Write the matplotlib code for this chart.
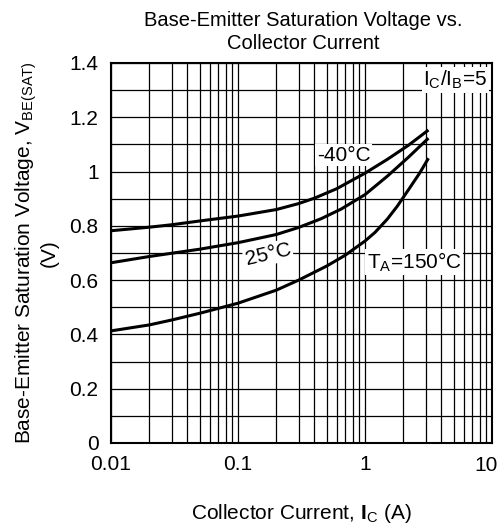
import numpy as np
import matplotlib
matplotlib.use('Agg')
import matplotlib.pyplot as plt
from matplotlib.ticker import LogLocator, FixedLocator, NullFormatter

plt.rcParams['font.family'] = ['Liberation Sans', 'DejaVu Sans']
plt.rcParams['mathtext.fontset'] = 'custom'
plt.rcParams['mathtext.rm'] = 'Liberation Sans'
plt.rcParams['mathtext.it'] = 'Liberation Sans:italic'
plt.rcParams['mathtext.bf'] = 'Liberation Sans:bold'


# Data (collector current in A, VBE(sat) in V)
ic_m40 = [0.01, 0.02, 0.03, 0.05, 0.1, 0.2, 0.3, 0.4, 0.6, 1.0, 1.5, 2.2, 3.16]
vbe_m40 = [0.782, 0.795, 0.804, 0.818, 0.836, 0.86, 0.882, 0.902, 0.937, 0.994, 1.045, 1.097, 1.153]

ic_25 = [0.01, 0.02, 0.03, 0.05, 0.1, 0.2, 0.3, 0.45, 0.65, 1.0, 1.5, 2.2, 3.16]
vbe_25 = [0.664, 0.687, 0.699, 0.714, 0.738, 0.768, 0.794, 0.826, 0.862, 0.915, 0.983, 1.053, 1.123]

ic_150 = [0.01, 0.02, 0.03, 0.05, 0.1, 0.2, 0.3, 0.5, 0.7, 1.0, 1.2, 1.5, 1.8, 2.2, 2.7, 3.16]
vbe_150 = [0.413, 0.435, 0.453, 0.478, 0.515, 0.563, 0.600, 0.652, 0.692, 0.744, 0.776,
           0.825, 0.873, 0.933, 0.995, 1.049]

x_ticks = [0.01, 0.1, 1, 10]
x_tick_labels = ['0.01', '0.1', '1', '10']
y_ticks = [0, 0.2, 0.4, 0.6, 0.8, 1.0, 1.2, 1.4]
y_tick_labels = ['0', '0.2', '0.4', '0.6', '0.8', '1', '1.2', '1.4']


fig = plt.figure(figsize=(5.01, 5.24), dpi=100)
ax = fig.add_axes([0.2216, 0.1546, 0.7604, 0.7252])

ax.set_xscale('log')
ax.set_xlim(0.01, 10)
ax.set_ylim(0, 1.4)

# Grid
ax.xaxis.set_major_locator(FixedLocator(x_ticks))
ax.xaxis.set_minor_locator(LogLocator(base=10, subs=np.arange(2, 10)))
ax.xaxis.set_minor_formatter(NullFormatter())
ax.yaxis.set_major_locator(FixedLocator(y_ticks))
ax.yaxis.set_minor_locator(FixedLocator(np.arange(0.1, 1.4, 0.2)))
ax.grid(which='both', color='black', linewidth=0.9)
ax.set_axisbelow(True)
ax.tick_params(which='both', length=0, labelsize=15, pad=9)
# last x label ("10") sits against the figure edge, draw it nudged left
ax.set_xticklabels(x_tick_labels[:-1] + [''])
ax.annotate(x_tick_labels[-1], xy=(x_ticks[-1], 0), xycoords='data',
            xytext=(-4.5, -9.5), textcoords='offset points',
            ha='center', va='top', fontsize=15, annotation_clip=False)
ax.set_yticklabels(y_tick_labels)
for s in ax.spines.values():
    s.set_linewidth(1.5)

# Curves
for ic, vbe in [(ic_m40, vbe_m40), (ic_25, vbe_25), (ic_150, vbe_150)]:
    ax.plot(ic, vbe, color='black', linewidth=2.2, solid_capstyle='butt')

box = dict(facecolor='white', edgecolor='none', pad=1)
ax.text(0.68, 1.061, '-40°C', fontsize=15, ha='center', va='center', bbox=box)
ax.text(0.172, 0.696, '25°C', fontsize=15, ha='center', va='center', rotation=13, bbox=box)
ax.text(2.43, 0.667, r'T$_\mathrm{A}$=150°C', fontsize=15, ha='center', va='center', bbox=box)
ax.text(5.12, 1.337, r'I$_\mathrm{C}$/I$_\mathrm{B}$=5', fontsize=15, ha='center', va='center', bbox=box)

# Titles and labels
fig.text(0.605, 0.939, 'Base-Emitter Saturation Voltage vs.\nCollector Current',
         fontsize=14.5, ha='center', va='center', linespacing=1.25)
ax.set_xlabel(r'Collector Current, $\mathbf{I}_\mathrm{C}$ (A)', fontsize=15, labelpad=20)
ax.set_ylabel('Base-Emitter Saturation Voltage, V$_\\mathrm{BE(SAT)}$\n(V)',
              fontsize=15, labelpad=8, linespacing=1.0)

fig.savefig('out.png', dpi=100)
